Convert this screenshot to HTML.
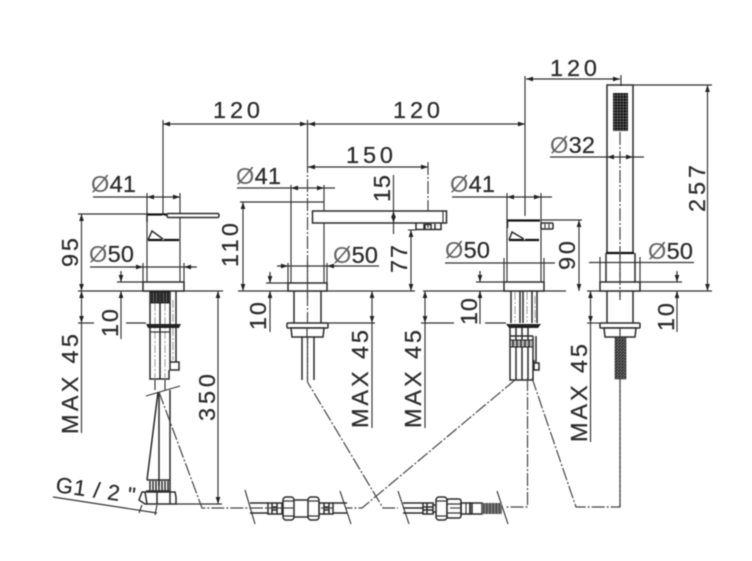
<!DOCTYPE html>
<html><head><meta charset="utf-8"><style>
html,body{margin:0;padding:0;background:#fff}
svg{display:block;filter:blur(.4px)}
text{font-family:"Liberation Sans",sans-serif;font-size:23.5px;fill:#2c2c2c;stroke:#2c2c2c;stroke-width:.25}
tspan.o{fill:#666;stroke:none;font-weight:normal}
.l{stroke:#333;stroke-width:1.15;fill:none}
.b{stroke:#2a2a2a;stroke-width:1.5;fill:#fff}
.n{stroke:#2a2a2a;stroke-width:1.5;fill:none}
.k{stroke:#111;stroke-width:2.2;fill:none}
.d{stroke:#444;stroke-width:1.2;fill:none;stroke-dasharray:13 2 2 2}
.a{stroke:#333;stroke-width:1.15;fill:none;marker-start:url(#m);marker-end:url(#m)}
.e{stroke:#333;stroke-width:1.15;fill:none;marker-end:url(#m)}
</style></head><body>
<svg width="752" height="561" viewBox="0 0 752 561" xmlns="http://www.w3.org/2000/svg">
<defs>
<marker id="m" viewBox="0 0 6 6" refX="6" refY="3" markerWidth="7" markerHeight="7" orient="auto-start-reverse" markerUnits="userSpaceOnUse"><path d="M0 1L6 3L0 5z" fill="#222"/></marker>
<pattern id="g" width="2.9" height="2.9" patternUnits="userSpaceOnUse"><rect width="2.9" height="2.9" fill="#888"/><rect width="2.4" height="2.4" fill="#111"/></pattern>
<pattern id="sp" width="3" height="3" patternUnits="userSpaceOnUse"><rect width="3" height="3" fill="#777"/><path d="M0 3L3 0" stroke="#222" stroke-width="1.3"/></pattern>
<pattern id="sv" width="3.2" height="12" patternUnits="userSpaceOnUse"><rect width="3.2" height="12" fill="#777"/><path d="M0 0V12" stroke="#222" stroke-width="1.4"/></pattern>
</defs>

<!-- base lines -->
<path class="l" d="M78 291H223M238 291H415M423 291H566M587 291H712"/>

<!-- top dims -->
<path class="l" d="M163 120V214M307.500 120V160M525 76V216M621 75V86"/>
<path class="a" d="M163 124H307"/>
<path class="a" d="M308 124H525"/>
<path class="a" d="M526 79H620"/>
<text x="213" y="118" textLength="47">120</text>
<text x="393" y="118" textLength="47">120</text>
<text x="550" y="76" textLength="47">120</text>

<!-- FAUCET 1 -->
<path class="l" d="M147 193V282M180 193V282M78 214H147"/>
<path class="k" d="M147 214.500H180M148 240H179"/>
<path class="n" d="M147 214V222"/>
<path class="n" d="M148 240L152 231L163 239"/>
<rect x="167" y="213.500" width="52" height="4" rx="1.500" class="b"/>
<path d="M163 215V240" stroke="#fff" stroke-width="1.200" stroke-dasharray="5 3"/>
<path class="a" d="M147 197H180"/><path class="l" d="M93 197H147"/>
<text x="91" y="192" textLength="45"><tspan class="o">Ø</tspan>41</text>
<path class="l" d="M90 267H195"/>
<path class="e" d="M130 267H143"/><path class="e" d="M197 267H184"/>
<text x="89" y="262" textLength="45"><tspan class="o">Ø</tspan>50</text>
<rect x="143" y="282" width="41" height="9" class="b"/>
<path class="l" d="M143 263V282M184 263V282"/>
<path class="a" d="M81.500 214V291"/>
<g transform="translate(78,267) rotate(-90)"><text textLength="29">95</text></g>
<path class="l" d="M117 282H143"/>
<path class="l" d="M121 271V282"/>
<path class="e" d="M121 272V282"/>
<path class="e" d="M121 339V291"/>
<g transform="translate(118,337) rotate(-90)"><text textLength="28">10</text></g>
<path class="a" d="M81.500 291V323"/>
<path class="l" d="M81.500 323V433M78 323H94M126 323H146"/>
<g transform="translate(78,434) rotate(-90)"><text textLength="100">MAX 45</text></g>
<path class="a" d="M218 291V504"/>
<path class="l" d="M176 504H222"/>
<g transform="translate(215,421) rotate(-90)"><text textLength="47">350</text></g>
<!-- shank 1 -->
<rect x="150" y="292" width="20" height="11" fill="#555" stroke="#222"/>
<path d="M152 292V303M155 292V303M158 292V303M162 292V303M165 292V303M168 292V303" stroke="#111" stroke-width="1.200"/>
<path class="n" d="M150 291V379H169V370M160 291V379M170 292V370M176 291V362M170 362H179V370H170"/>
<path d="M155 303V379M165 303V379M173 300V360" stroke="#999" stroke-width="1" stroke-dasharray="8 2 2 2"/>
<path d="M146 324H181L179 328H148z" fill="#222"/>
<path class="l" d="M150 328V332H170V328"/>
<path class="l" d="M155 380V390M165 380V390"/>
<path class="l" d="M146 396L180 386"/>
<path class="n" d="M158 392L147 480M159 392V486M170 390V480"/>
<path class="d" d="M159 392L202 508H250"/>
<path class="n" d="M147 480H170M146 491H170V480M150 481V491M153 481V491M156 481V491M159 481V491M162 481V491M165 481V491M168 481V491"/>
<path class="b" d="M142 492H175L176 497V504H145L139 500z"/>
<path class="n" d="M145 492L147 504M157 492V504M170 492V504"/>
<path class="l" d="M53 497L157 513"/>
<path class="l" d="M142 505L139 513M157 505L155 515"/>
<g transform="translate(55,492) rotate(8)"><text textLength="80" style="font-size:22px">G1 / 2 "</text></g>

<!-- FAUCET 2 -->
<path class="l" d="M291 185V283M324 185V211M324 223V283M240 202H324"/>
<path class="a" d="M291 188H324"/><path class="l" d="M237 188H291M324 188H335"/>
<text x="236" y="184" textLength="45"><tspan class="o">Ø</tspan>41</text>
<path class="a" d="M243 202V291"/>
<g transform="translate(238,267) rotate(-90)"><text textLength="44">110</text></g>
<path class="a" d="M308 167H428"/>
<text x="346" y="163" textLength="47">150</text>
<path class="d" d="M428 162V228"/>
<path class="d" d="M307.500 160V380"/>
<rect x="312.500" y="211" width="134" height="12" class="b"/>
<path class="l" d="M443 211V223"/>
<path class="n" d="M416 223V229.500H441V223M424 224V229M435 224V229M425 229V224.500H431V229"/>
<path class="a" d="M393.500 211V223"/><path class="l" d="M393.500 175V211M393.500 223V234"/>
<g transform="translate(390,202) rotate(-90)"><text textLength="27">15</text></g>
<path class="l" d="M408 230H416"/><path class="a" d="M411 230V291"/>
<g transform="translate(407,273) rotate(-90)"><text textLength="28">77</text></g>
<rect x="288" y="283" width="39" height="8" class="b"/>
<path class="d" d="M307.500 262V300"/>
<path class="l" d="M277 266H379"/>
<path class="e" d="M278 266H288"/><path class="e" d="M338 266H327"/>
<path class="l" d="M288 263V283M327 263V283"/>
<text x="333" y="263" textLength="45"><tspan class="o">Ø</tspan>50</text>
<path class="l" d="M266 283H288"/>
<path class="l" d="M270 272V283M270 291V332"/>
<path class="e" d="M270 273V283"/>
<path class="e" d="M270 300V291"/>
<g transform="translate(266,330) rotate(-90)"><text textLength="28">10</text></g>
<path class="n" d="M294 291V323M321 291V323"/>
<rect x="287" y="323" width="41" height="5" rx="1" class="b"/>
<path class="b" d="M291 328H324L323 337H292z"/>
<path class="l" d="M307 328V337"/>
<path class="n" d="M302 337V380M314 337V380"/>
<path class="d" d="M307.500 338V382L383 508H398"/>
<path class="l" d="M321 323H375"/>
<path class="a" d="M372 291V323"/>
<path class="l" d="M372 323V428"/>
<g transform="translate(368,428) rotate(-90)"><text textLength="98">MAX 45</text></g>

<!-- FAUCET 3 -->
<path class="l" d="M507 193V282M541 193V282M541 220H582"/>
<path class="k" d="M507 220.500H540M509 240H539"/>
<path class="n" d="M507.500 220V228M509 240L512 232L524 239"/>
<rect x="541" y="223" width="12" height="6" rx="1" class="b"/>
<path class="l" d="M545 224V228M549 224V228"/>
<path d="M524.500 222V240" stroke="#fff" stroke-width="1.200" stroke-dasharray="5 3"/>
<path class="a" d="M507 197H541"/><path class="l" d="M452 197H507M541 197H552"/>
<text x="450" y="192" textLength="45"><tspan class="o">Ø</tspan>41</text>
<path class="a" d="M579 220V291"/>
<g transform="translate(575,270) rotate(-90)"><text textLength="29">90</text></g>
<rect x="504" y="282" width="40" height="9" class="b"/>
<path class="l" d="M445 263H555M504 258V282M544 258V282"/>
<text x="445" y="258" textLength="45"><tspan class="o">Ø</tspan>50</text>
<path class="l" d="M476 282H504"/>
<path class="l" d="M480 271V282M480 291V324"/>
<path class="e" d="M480 272V282"/>
<path class="e" d="M480 300V291"/>
<g transform="translate(477,325) rotate(-90)"><text textLength="27">10</text></g>
<path class="n" d="M511 291V323M520 291V323M523 291V323M532 291V323M537 291V323"/>
<path d="M515 292V322M527 292V322M535 296V322" stroke="#999" stroke-dasharray="8 2 2 2"/>
<path d="M506 324H541L538 328H509z" fill="#222"/>
<path class="n" d="M510 328V380H533V336M510 336H533M516 328V380M522 328V380M528 328V380"/>
<rect x="510" y="340" width="23" height="7" fill="#aaa" stroke="#222"/>
<path d="M513 340V347M517 340V347M521 340V347M525 340V347M529 340V347" stroke="#111"/>
<path class="n" d="M534 363H539V370H534V360M536 336V363"/>
<path class="l" d="M421 323H454M485 323H506"/>
<path class="a" d="M425 291V323"/>
<path class="l" d="M425 323V428"/>
<g transform="translate(421,428) rotate(-90)"><text textLength="98">MAX 45</text></g>
<path class="d" d="M515 380L362 508H346"/>
<path class="d" d="M527.500 378V507H505"/>
<path class="d" d="M532 378L576 507H620V375"/>

<!-- HAND SHOWER -->
<path class="n" d="M607 253V85H633V253"/>
<path class="k" d="M606 253H634"/>
<rect x="613" y="93" width="15" height="38" fill="url(#g)"/>
<path class="d" d="M620 132V300"/>
<path class="a" d="M607 157H633"/><path class="l" d="M550 157H607M633 157H644"/>
<text x="550" y="153" textLength="45"><tspan class="o">Ø</tspan>32</text>
<path class="l" d="M633 85H712"/>
<path class="a" d="M707.500 85V291"/>
<g transform="translate(705,212) rotate(-90)"><text textLength="47">257</text></g>
<path class="n" d="M606 253V282M635 253V282"/>
<rect x="600" y="282" width="40" height="9" class="b"/>
<path class="d" d="M620 253V300"/>
<path class="l" d="M589 262.500H694M600 257V282M640 257V282"/>
<text x="648" y="259" textLength="45"><tspan class="o">Ø</tspan>50</text>
<path class="l" d="M640 282H682"/>
<path class="l" d="M677 271V282M677 291V332"/>
<path class="e" d="M677 272V282"/>
<path class="e" d="M677 300V291"/>
<g transform="translate(674,331) rotate(-90)"><text textLength="28">10</text></g>
<path class="n" d="M607 291V323M633 291V323"/>
<rect x="600" y="323" width="40" height="5" rx="1" class="b"/>
<path class="b" d="M604 328H636L635 337H605z"/>
<path class="l" d="M620 328V337"/>
<rect x="615" y="337" width="11" height="42" fill="url(#sp)" stroke="#333" stroke-width=".6"/>
<path class="d" d="M620 380V507"/>
<path class="l" d="M587 323H600"/>
<path class="a" d="M590.500 291V323"/>
<path class="l" d="M590.500 323V442"/>
<g transform="translate(587,442) rotate(-90)"><text textLength="98">MAX 45</text></g>

<!-- bottom fitting 1 -->
<path class="l" d="M245 490L255 524M340 491L351 524M398 491L409 524M497 491L508 524"/>
<path class="n" d="M250 503H268M250 513H268M333 503H347M333 513H347"/>
<rect x="268" y="503" width="14" height="11" class="n"/>
<path class="n" d="M272 503V514M277 503V514M272 507H277M272 510H277M324 503V514M329 503V514M324 507H329M324 510H329"/>
<rect x="319" y="503" width="14" height="11" class="n"/>
<rect x="283" y="497" width="11" height="23" rx="3" class="b"/>
<rect x="308" y="497" width="11" height="23" rx="3" class="b"/>
<path class="n" d="M294 500H308M294 517H308"/>
<path class="l" d="M283 501H294M283 516H294M308 501H319M308 516H319"/>
<path class="d" d="M250 508H283M283 508H294M321 508H333"/>

<!-- bottom fitting 2 -->
<path class="n" d="M403 503H423M403 513H423M403 508H423"/>
<rect x="423" y="503" width="10" height="11" class="n"/>
<path class="n" d="M427 503V514M423 507H433M423 510H433"/>
<path class="n" d="M433 505H436M433 512H436"/>
<rect x="436" y="497" width="11" height="23" rx="3" class="b"/>
<rect x="447" y="499" width="14" height="19" rx="2" class="b"/>
<path class="l" d="M447 504H461M447 513H461M436 501H447M436 516H447"/>
<rect x="461" y="503" width="9" height="11" class="n"/>
<path class="l" d="M466 503V514"/>
<rect x="470" y="503" width="12" height="11" class="n"/>
<path class="n" d="M472 503V514"/>
<rect x="482" y="503" width="20" height="11" fill="url(#sv)"/>
<path class="d" d="M450 508H460"/>
</svg>
</body></html>
